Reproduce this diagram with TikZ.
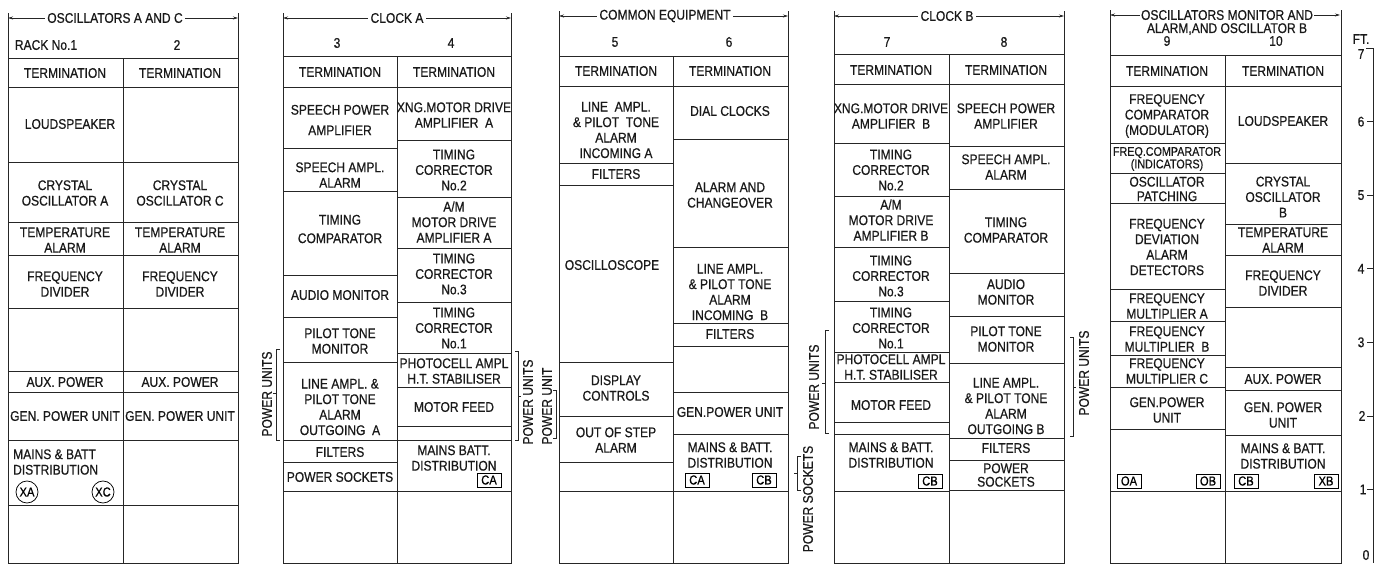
\documentclass[tikz,border=0pt]{standalone}
\usepackage{fontspec}
\newfontfamily\lblfont{Liberation Sans}[FakeStretch=0.86,FakeBold=0.6]
\usetikzlibrary{arrows.meta}
\begin{document}
\begin{tikzpicture}[x=1pt,y=-1pt,
  ln/.style={line width=0.9pt, black!85},
  br/.style={line width=0.65pt, black!85},
  lbl/.style={font=\lblfont\fontsize{14}{15.5}\selectfont, align=center, inner sep=0pt, text=black!90},
  sml/.style={lbl, font=\lblfont\fontsize{12.5}{12.5}\selectfont},
  hdr/.style={lbl, fill=white, inner sep=2.5pt},
  tag/.style={draw, line width=0.75pt, font=\lblfont\fontsize{13}{13}\selectfont, inner sep=1.2pt, minimum width=24pt, minimum height=14pt},
  xtag/.style={draw, circle, line width=0.75pt, font=\lblfont\fontsize{13}{13}\selectfont, inner sep=0pt, minimum size=22pt},
  vert/.style={lbl, rotate=90},
  dim/.style={br, {Stealth[length=5pt,width=3pt]}-{Stealth[length=5pt,width=3pt]}}
]
\useasboundingbox (0,0) rectangle (1381,566);
\fill[white] (0,0) rectangle (1381,566);

% ---------------- Rack 1-2 ----------------
\draw[ln] (8,13) -- (8,563) -- (238,563) -- (238,13);
\draw[ln] (8,58) -- (238,58);
\draw[ln] (123,58) -- (123,563);
\foreach \y in {87,162,222,255,308,371,392,440,505} \draw[ln] (8,\y) -- (238,\y);
\draw[dim] (8,18) -- (238,18);
\node[hdr] (h12) at (115,18) {OSCILLATORS A AND C};
\node[lbl] (n1) at (46,45) {RACK No.1};
\node[lbl] (n2) at (177,45) {2};
\node[lbl] (a1) at (65,73) {TERMINATION};
\node[lbl] (a2) at (70,124) {LOUDSPEAKER};
\node[lbl] (a3) at (65,193) {CRYSTAL\\OSCILLATOR A};
\node[lbl] (a4) at (65,240) {TEMPERATURE\\ALARM};
\node[lbl] (a5) at (65,284) {FREQUENCY\\DIVIDER};
\node[lbl] (a6) at (65,382) {AUX. POWER};
\node[lbl] (a7) at (65,416) {GEN. POWER UNIT};
\node[lbl, align=left, anchor=west] (a8) at (13,462) {MAINS \& BATT\\DISTRIBUTION};
\node[xtag] (xa) at (27,492) {XA};
\node[xtag] (xc) at (103,492) {XC};
\node[lbl] (b1) at (180,73) {TERMINATION};
\node[lbl] (b3) at (180,193) {CRYSTAL\\OSCILLATOR C};
\node[lbl] (b4) at (180,240) {TEMPERATURE\\ALARM};
\node[lbl] (b5) at (180,284) {FREQUENCY\\DIVIDER};
\node[lbl] (b6) at (180,382) {AUX. POWER};
\node[lbl] (b7) at (180,416) {GEN. POWER UNIT};

% ---------------- Rack 3-4 ----------------
\draw[ln] (283,13) -- (283,563) -- (511,563) -- (511,13);
\draw[ln] (283,56) -- (511,56);
\draw[ln] (397,56) -- (397,563);
\foreach \y in {87,148,191,275,317,362,440,462,491} \draw[ln] (283,\y) -- (397,\y);
\foreach \y in {87,140,197,248,302,353,387,426,440,491} \draw[ln] (397,\y) -- (511,\y);
\draw[dim] (283,18) -- (511,18);
\node[hdr] (h34) at (397,18) {CLOCK A};
\node[lbl] (n3) at (337,43) {3};
\node[lbl] (n4) at (451,43) {4};
\node[lbl] (c1) at (340,72) {TERMINATION};
\node[lbl] (c2) at (340,120) {SPEECH POWER\\[5pt]AMPLIFIER};
\node[lbl] (c3) at (340,175) {SPEECH AMPL.\\ALARM};
\node[lbl] (c4) at (340,229) {TIMING\\[3pt]COMPARATOR};
\node[lbl] (c5) at (340,295) {AUDIO MONITOR};
\node[lbl] (c6) at (340,341) {PILOT TONE\\MONITOR};
\node[lbl] (c7) at (340,407) {LINE AMPL. \&\\PILOT TONE\\ALARM\\OUTGOING\ \ A};
\node[lbl] (c8) at (340,452) {FILTERS};
\node[lbl] (c9) at (340,477) {POWER SOCKETS};
\node[lbl] (d1) at (454,72) {TERMINATION};
\node[lbl] (d2) at (454,115) {XNG.MOTOR DRIVE\\AMPLIFIER\ \ A};
\node[lbl] (d3) at (454,170) {TIMING\\CORRECTOR\\No.2};
\node[lbl] (d4) at (454,222) {A/M\\MOTOR DRIVE\\AMPLIFIER A};
\node[lbl] (d5) at (454,274) {TIMING\\CORRECTOR\\No.3};
\node[lbl] (d6) at (454,328) {TIMING\\CORRECTOR\\No.1};
\node[lbl] (d7) at (454,371) {PHOTOCELL AMPL\\H.T. STABILISER};
\node[lbl] (d8) at (454,407) {MOTOR FEED};
\node[lbl] (d9) at (454,458) {MAINS BATT.\\DISTRIBUTION};
\node[tag] (ca1) at (489,480) {CA};
\draw[br] (280,349) -- (276,349) -- (276,440) -- (280,440);
\draw[br] (276,393) -- (273,393);
\node[vert] (pu1) at (267,394) {POWER UNITS};
\draw[br] (515,351) -- (518,351) -- (518,440) -- (515,440);
\draw[br] (518,396) -- (521,396);
\node[vert] (pu2) at (528,402) {POWER UNITS};

% ---------------- Rack 5-6 ----------------
\draw[ln] (559,11) -- (559,563) -- (788,563) -- (788,11);
\draw[ln] (559,56) -- (788,56);
\draw[ln] (673,56) -- (673,563);
\foreach \y in {86,163,185,362,416,462,491} \draw[ln] (559,\y) -- (673,\y);
\foreach \y in {86,139,247,323,346,392,434,491} \draw[ln] (673,\y) -- (788,\y);
\draw[dim] (559,16) -- (788,16);
\node[hdr] (h56) at (665,16) {COMMON EQUIPMENT};
\node[lbl] (n5) at (615,42) {5};
\node[lbl] (n6) at (729,42) {6};
\node[lbl] (e1) at (616,71) {TERMINATION};
\node[lbl] (e2) at (616,130) {LINE\ \ AMPL.\\\& PILOT\ \ TONE\\ALARM\\INCOMING A};
\node[lbl] (e3) at (616,174) {FILTERS};
\node[lbl] (e4) at (612,265) {OSCILLOSCOPE};
\node[lbl] (e5) at (616,388) {DISPLAY\\CONTROLS};
\node[lbl] (e6) at (616,440) {OUT OF STEP\\ALARM};
\node[lbl] (f1) at (730,71) {TERMINATION};
\node[lbl] (f2) at (730,111) {DIAL CLOCKS};
\node[lbl] (f3) at (730,195) {ALARM AND\\CHANGEOVER};
\node[lbl] (f4) at (730,292) {LINE AMPL.\\\& PILOT TONE\\ALARM\\INCOMING\ \ B};
\node[lbl] (f5) at (730,334) {FILTERS};
\node[lbl] (f6) at (730,412) {GEN.POWER UNIT};
\node[lbl] (f7) at (730,455) {MAINS \& BATT.\\DISTRIBUTION};
\node[tag] (ca2) at (697,480) {CA};
\node[tag] (cb1) at (764,480) {CB};
\draw[br] (553,390) -- (556,390) -- (556,438) -- (553,438);
\node[vert] (pu3) at (547,406) {POWER UNIT};
\draw[br] (801,456) -- (797,456) -- (797,490) -- (801,490);
\draw[br] (797,473) -- (794,473);
\node[vert] (ps1) at (808,499) {POWER SOCKETS};
\draw[br] (829,330) -- (825,330) -- (825,433) -- (829,433);
\draw[br] (825,383) -- (822,383);
\node[vert] (pu4) at (814,387) {POWER UNITS};

% ---------------- Rack 7-8 ----------------
\draw[ln] (834,11) -- (834,563) -- (1064,563) -- (1064,11);
\draw[ln] (834,54) -- (1064,54);
\draw[ln] (949,54) -- (949,563);
\foreach \y in {84,143,196,247,301,352,382,422,434,491} \draw[ln] (834,\y) -- (949,\y);
\foreach \y in {84,146,189,273,316,363,438,460,490} \draw[ln] (949,\y) -- (1064,\y);
\draw[dim] (834,16) -- (1064,16);
\node[hdr] (h78) at (947,16) {CLOCK B};
\node[lbl] (n7) at (887,42) {7};
\node[lbl] (n8) at (1004,42) {8};
\node[lbl] (g1) at (891,70) {TERMINATION};
\node[lbl] (g2) at (891,116) {XNG.MOTOR DRIVE\\AMPLIFIER\ \ B};
\node[lbl] (g3) at (891,170) {TIMING\\CORRECTOR\\No.2};
\node[lbl] (g4) at (891,220) {A/M\\MOTOR DRIVE\\AMPLIFIER B};
\node[lbl] (g5) at (891,276) {TIMING\\CORRECTOR\\No.3};
\node[lbl] (g6) at (891,328) {TIMING\\CORRECTOR\\No.1};
\node[lbl] (g7) at (891,367) {PHOTOCELL AMPL\\H.T. STABILISER};
\node[lbl] (g8) at (891,405) {MOTOR FEED};
\node[lbl] (g9) at (891,455) {MAINS \& BATT.\\DISTRIBUTION};
\node[tag] (cb2) at (930,481) {CB};
\node[lbl] (k1) at (1006,70) {TERMINATION};
\node[lbl] (k2) at (1006,116) {SPEECH POWER\\AMPLIFIER};
\node[lbl] (k3) at (1006,167) {SPEECH AMPL.\\ALARM};
\node[lbl] (k4) at (1006,230) {TIMING\\COMPARATOR};
\node[lbl] (k5) at (1006,292) {AUDIO\\MONITOR};
\node[lbl] (k6) at (1006,339) {PILOT TONE\\MONITOR};
\node[lbl] (k7) at (1006,406) {LINE AMPL.\\\& PILOT TONE\\ALARM\\OUTGOING B};
\node[lbl] (k8) at (1006,448) {FILTERS};
\node[lbl] (k9) at (1006,475) {POWER\\[-2pt]SOCKETS};
\draw[br] (1070,337) -- (1073,337) -- (1073,436) -- (1070,436);
\draw[br] (1073,387) -- (1076,387);
\node[vert] (pu5) at (1084,373) {POWER UNITS};

% ---------------- Rack 9-10 ----------------
\draw[ln] (1110,10) -- (1110,563) -- (1341,563) -- (1341,10);
\draw[ln] (1110,55) -- (1341,55);
\draw[ln] (1225,55) -- (1225,563);
\foreach \y in {86,143,173,203,289,321,355,387,429,491} \draw[ln] (1110,\y) -- (1225,\y);
\foreach \y in {86,163,224,255,307,367,390,435,491} \draw[ln] (1225,\y) -- (1341,\y);
\draw[dim] (1110,15) -- (1340,15);
\node[hdr, inner sep=1.5pt] (h910) at (1227,15) {OSCILLATORS MONITOR AND};
\node[lbl] (h910b) at (1227,29) {ALARM,AND OSCILLATOR B};
\node[lbl] (n9) at (1167,41) {9};
\node[lbl] (n10) at (1276,41) {10};
\node[lbl] (m1) at (1167,71) {TERMINATION};
\node[lbl] (m2) at (1167,116) {FREQUENCY\\COMPARATOR\\(MODULATOR)};
\node[sml] (m3) at (1167,159) {FREQ.COMPARATOR\\(INDICATORS)};
\node[lbl] (m4) at (1167,189) {OSCILLATOR\\[-1pt]PATCHING};
\node[lbl] (m5) at (1167,247) {FREQUENCY\\DEVIATION\\ALARM\\DETECTORS};
\node[lbl] (m6) at (1167,306) {FREQUENCY\\MULTIPLIER A};
\node[lbl] (m7) at (1167,339) {FREQUENCY\\MULTIPLIER\ \ B};
\node[lbl] (m8) at (1167,371) {FREQUENCY\\MULTIPLIER C};
\node[lbl] (m9) at (1167,410) {GEN.POWER\\UNIT};
\node[tag] (oa) at (1129,481) {OA};
\node[tag] (ob) at (1208,481) {OB};
\node[lbl] (p1) at (1283,71) {TERMINATION};
\node[lbl] (p2) at (1283,121) {LOUDSPEAKER};
\node[lbl] (p3) at (1283,197) {CRYSTAL\\OSCILLATOR\\B};
\node[lbl] (p4) at (1283,240) {TEMPERATURE\\ALARM};
\node[lbl] (p5) at (1283,283) {FREQUENCY\\DIVIDER};
\node[lbl] (p6) at (1283,379) {AUX. POWER};
\node[lbl] (p7) at (1283,415) {GEN. POWER\\UNIT};
\node[lbl] (p8) at (1283,456) {MAINS \& BATT.\\DISTRIBUTION};
\node[tag] (cb3) at (1246,481) {CB};
\node[tag] (xb) at (1326,481) {XB};

% ---------------- Scale ----------------
\draw[br] (1366,48) -- (1373,48) -- (1373,563);
\foreach \y in {121.6,195.1,268.7,342.3,415.9,489.4} \draw[br] (1367,\y) -- (1373,\y);
\node[lbl] (ft) at (1361,39) {FT.};
\node[lbl] (s7) at (1361,54) {7};
\node[lbl] (s6) at (1361,121.6) {6};
\node[lbl] (s5) at (1361,195.1) {5};
\node[lbl] (s4) at (1361,268.7) {4};
\node[lbl] (s3) at (1361,342.3) {3};
\node[lbl] (s2) at (1362,415.9) {2};
\node[lbl] (s1) at (1363,489.4) {1};
\node[lbl] (s0) at (1366,555) {0};
\end{tikzpicture}
\end{document}
